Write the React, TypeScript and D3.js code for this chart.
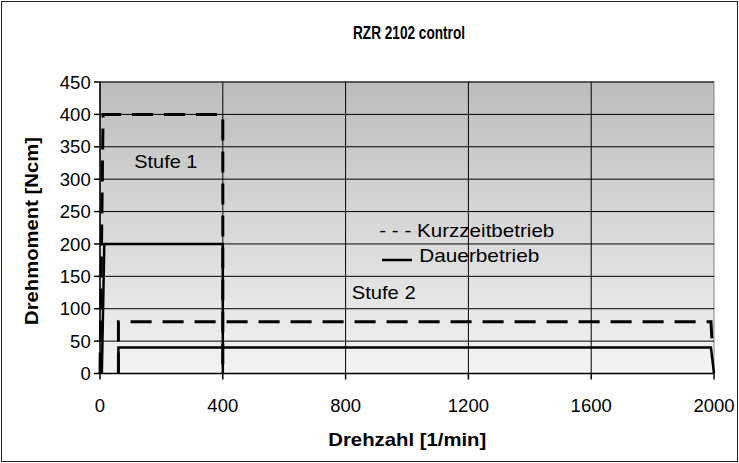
import * as d3 from 'd3';

const xTicks = [0, 400, 800, 1200, 1600, 2000];
const yTicks = [0, 50, 100, 150, 200, 250, 300, 350, 400, 450];

// Kurzzeitbetrieb (dashed) and Dauerbetrieb (solid), Stufe 1 and Stufe 2
const kurzStufe1: [number, number][] = [[0, 0], [10, 400], [400, 400], [400, 0]];
const dauerStufe1: [number, number][] = [[6, 0], [14, 200], [400, 200], [400, 0]];
const kurzStufe2: [number, number][] = [[60, 0], [60, 80], [1990, 80], [1995, 40]];
const dauerStufe2: [number, number][] = [[60, 0], [60, 40], [1990, 40], [2000, 0]];

const width = 739;
const height = 463;
const marginLeft = 100;
const marginRight = 25;
const marginTop = 82;
const marginBottom = 89.5;

const font = "'Liberation Sans', Arial, sans-serif";
const fs = 18.5;

const App = () => {
  const x = d3.scaleLinear().domain([0, 2000]).range([marginLeft, width - marginRight]);
  const y = d3.scaleLinear().domain([0, 450]).range([height - marginBottom, marginTop]);

  const line = d3.line<[number, number]>()
    .x(d => x(d[0]))
    .y(d => y(d[1]));

  const x0 = x(0);
  const x1 = x(2000);
  const y0 = y(0);
  const y1 = y(450);

  return (
    <div style={{ position: 'fixed', left: 0, top: 0 }}>
      <svg width={width} height={height} style={{ display: 'block', fontFamily: font }}>
        <defs>
          <linearGradient id="bg" x1="0" y1="0" x2="0" y2="1">
            <stop offset="0%" stopColor="#bdbdbd" />
            <stop offset="100%" stopColor="#f3f3f3" />
          </linearGradient>
        </defs>
        <rect x={1.5} y={1.5} width={width - 3} height={height - 3} fill="#fff" stroke="#222" strokeWidth={1} />
        <text x={409} y={38.5} textAnchor="middle" fontSize={17.5} fontWeight="bold" textLength={112} lengthAdjust="spacingAndGlyphs">RZR 2102 control</text>

        <rect x={x0} y={y1} width={x1 - x0} height={y0 - y1} fill="url(#bg)" stroke="#808080" strokeWidth={1} />

        {yTicks.filter(t => t > 0).map(t => (
          <line key={'gy' + t} x1={x0} x2={x1} y1={y(t)} y2={y(t)} stroke="#000" strokeWidth={1} />
        ))}
        {xTicks.filter(t => t > 0 && t < 2000).map(t => (
          <line key={'gx' + t} x1={x(t)} x2={x(t)} y1={y1} y2={y0} stroke="#000" strokeWidth={1} />
        ))}

        <line x1={x0} x2={x0} y1={y1} y2={y0} stroke="#000" strokeWidth={1.5} />
        <line x1={x0} x2={x1} y1={y0} y2={y0} stroke="#000" strokeWidth={1.5} />
        {yTicks.map(t => (
          <g key={'ty' + t}>
            <line x1={x0 - 6} x2={x0} y1={y(t)} y2={y(t)} stroke="#000" strokeWidth={1.5} />
            <text x={x0 - 9.3} y={y(t) + 6.7} textAnchor="end" fontSize={fs}>{t}</text>
          </g>
        ))}
        {xTicks.map(t => (
          <g key={'tx' + t}>
            <line x1={x(t)} x2={x(t)} y1={y0} y2={y0 + 6} stroke="#000" strokeWidth={1.5} />
            <text x={x(t)} y={412} textAnchor="middle" fontSize={fs}>{t}</text>
          </g>
        ))}

        <path d={line(kurzStufe1) ?? ''} fill="none" stroke="#000" strokeWidth={3} strokeDasharray="21 11" />
        <path d={line(dauerStufe1) ?? ''} fill="none" stroke="#000" strokeWidth={2.5} />
        <path d={line(kurzStufe2) ?? ''} fill="none" stroke="#000" strokeWidth={3} strokeDasharray="21 11" />
        <path d={line(dauerStufe2) ?? ''} fill="none" stroke="#000" strokeWidth={2.5} />

        <text x={134.3} y={168.3} fontSize={fs} textLength={63} lengthAdjust="spacingAndGlyphs">Stufe 1</text>
        <text x={351.7} y={299.3} fontSize={fs} textLength={64} lengthAdjust="spacingAndGlyphs">Stufe 2</text>
        <text x={379.3} y={236.7} fontSize={fs} textLength={175} lengthAdjust="spacingAndGlyphs">- - - Kurzzeitbetrieb</text>
        <line x1={382} x2={412} y1={260} y2={260} stroke="#000" strokeWidth={2.5} />
        <text x={419.3} y={261.7} fontSize={fs} textLength={120} lengthAdjust="spacingAndGlyphs">Dauerbetrieb</text>

        <text x={328.3} y={446} fontSize={fs} fontWeight="bold" textLength={158} lengthAdjust="spacingAndGlyphs">Drehzahl [1/min]</text>
        <text transform="translate(38,325) rotate(-90)" fontSize={fs} fontWeight="bold" textLength={188} lengthAdjust="spacingAndGlyphs">
          Drehmoment [Ncm]
        </text>
      </svg>
    </div>
  );
};

export default App;
